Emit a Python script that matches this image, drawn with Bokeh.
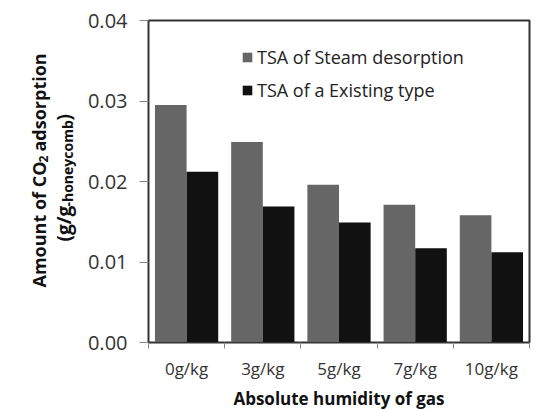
import math
from bokeh.plotting import figure
from bokeh.layouts import row
from bokeh.core.properties import value
from bokeh.models import (Range1d, FixedTicker, NumeralTickFormatter, Legend,
                          LegendItem, ColumnDataSource)
from bokeh.transform import dodge
from bokeh.embed import file_html
from bokeh.resources import INLINE

categories = ["0g/kg", "3g/kg", "5g/kg", "7g/kg", "10g/kg"]
steam = [0.0295, 0.0249, 0.0196, 0.0171, 0.0158]
existing = [0.0212, 0.0169, 0.0149, 0.0117, 0.0112]
series_names = ["TSA of Steam desorption", "TSA of a Existing type"]
y_ticks = [0.0, 0.01, 0.02, 0.03, 0.04]

FONT = "Open Sans"
TITLE_W = 80
TOP, FRAME_H, BOTTOM = 20, 322, 66

# ---------- y-axis title strip (text with subscripts), pixel coordinates ----------
t = figure(frame_width=TITLE_W, frame_height=FRAME_H, output_backend="svg",
           toolbar_location=None, x_range=Range1d(0, TITLE_W), y_range=Range1d(0, FRAME_H),
           x_axis_type=None, y_axis_type=None,
           min_border_left=0, min_border_right=0, min_border_top=TOP, min_border_bottom=BOTTOM,
           outline_line_color=None, background_fill_color="white", border_fill_color="white")
t.xgrid.visible = False
t.ygrid.visible = False

def piece(text, x, img_y, size):
    t.text(x=[x], y=[TOP + FRAME_H - img_y], text=[text], angle=math.pi / 2,
           text_align="left", text_baseline="alphabetic",
           text_font=value(FONT), text_font_style="bold", text_font_size=size,
           text_color="#111111")

piece("Amount of CO", 38, 287, "18px")
piece("2", 43, 162, "12px")
piece("adsorption", 38, 151, "18px")
piece("(g/g", 63, 241, "19px")
piece("-honeycomb", 67, 206, "14px")
piece(")", 63, 120, "19px")

# ---------- main chart ----------
pos = [i + 0.5 for i in range(len(categories))]
src = ColumnDataSource(dict(x=pos, steam=steam, existing=existing))

p = figure(frame_width=381, frame_height=FRAME_H, output_backend="svg",
           toolbar_location=None,
           x_range=Range1d(0, len(categories)), y_range=Range1d(0, 0.04),
           min_border_left=148 - TITLE_W, min_border_right=4, min_border_top=TOP,
           min_border_bottom=BOTTOM,
           background_fill_color="white", border_fill_color="white")

bw = 0.415
r1 = p.vbar(x=dodge("x", -bw / 2, range=p.x_range), top="steam", width=bw, source=src,
            fill_color="#666666", line_color=None)
r2 = p.vbar(x=dodge("x", bw / 2, range=p.x_range), top="existing", width=bw, source=src,
            fill_color="#111111", line_color=None)

p.xgrid.visible = False
p.ygrid.visible = False
p.outline_line_color = "#333333"
p.outline_line_width = 2

ya = p.yaxis[0]
ya.ticker = FixedTicker(ticks=y_ticks)
ya.formatter = NumeralTickFormatter(format="0.00")
ya.major_label_text_font = FONT
ya.major_label_text_font_size = "20px"
ya.major_label_text_color = "#333333"
ya.major_tick_out = 9
ya.major_tick_in = 0
ya.minor_tick_line_color = None
ya.major_tick_line_color = "#868686"
ya.axis_line_color = "#333333"
ya.major_label_standoff = 12

xa = p.xaxis[0]
xa.ticker = FixedTicker(ticks=pos, minor_ticks=list(range(len(categories) + 1)))
xa.major_label_overrides = {pos[i]: categories[i] for i in range(len(categories))}
xa.major_tick_line_color = None
xa.major_tick_out = 0
xa.major_tick_in = 0
xa.minor_tick_out = 6
xa.minor_tick_in = 0
xa.minor_tick_line_color = "#868686"
xa.axis_line_color = "#333333"
xa.major_label_text_font = FONT
xa.major_label_text_font_size = "17px"
xa.major_label_text_color = "#333333"
xa.major_label_standoff = 8
xa.axis_label = "Absolute humidity of gas"
xa.axis_label_text_font = FONT
xa.axis_label_text_font_size = "17px"
xa.axis_label_text_font_style = "bold"
xa.axis_label_text_color = "#111111"
xa.axis_label_standoff = 4

legend = Legend(items=[LegendItem(label=series_names[0], renderers=[r1]),
                       LegendItem(label=series_names[1], renderers=[r2])],
                location=(93, 240), orientation="vertical",
                border_line_color=None, background_fill_alpha=0,
                padding=0, margin=0, spacing=9,
                glyph_width=12, glyph_height=12, label_standoff=4,
                label_text_font=FONT, label_text_font_size="18px",
                label_text_color="#222222")
p.add_layout(legend)

layout = row(t, p, spacing=0)
open("out.html", "w").write(file_html(layout, INLINE))
